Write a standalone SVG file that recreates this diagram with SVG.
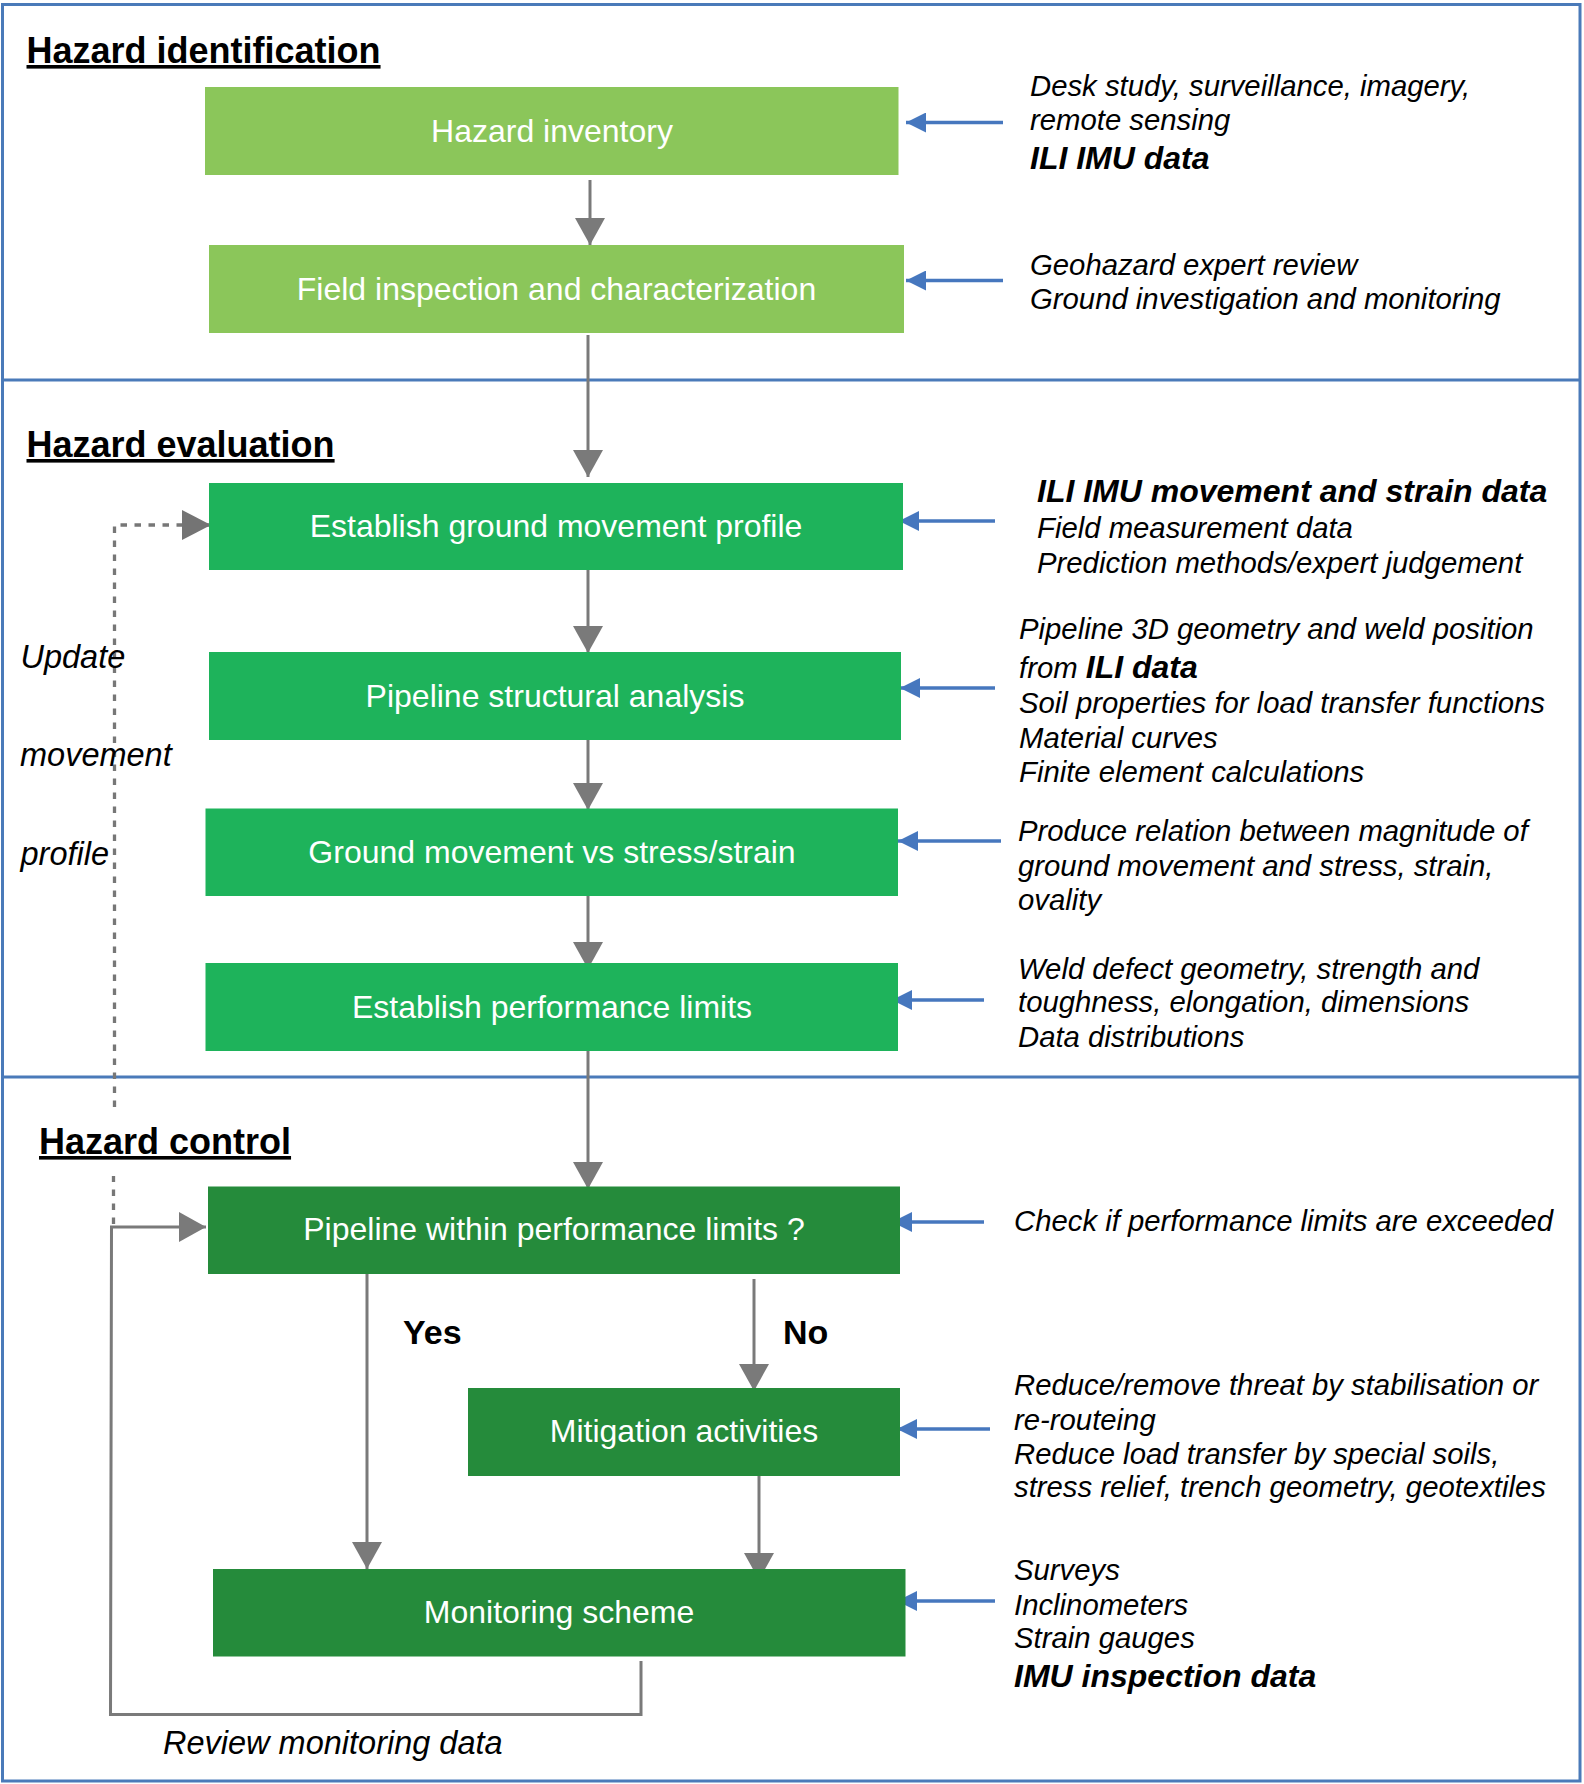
<svg xmlns="http://www.w3.org/2000/svg" width="1584" height="1784" viewBox="0 0 1584 1784">
<style>
  text { font-family: "Liberation Sans", Arial, Helvetica, sans-serif; }
  .frame { fill: none; stroke: #4a7ab9; stroke-width: 3; }
  .divider { stroke: #4a7ab9; stroke-width: 3; }
  .head { font-size: 36px; font-weight: bold; fill: #000; text-decoration: underline; }
  .box1 { fill: #8bc65a; }
  .box2 { fill: #1eb35b; }
  .box3 { fill: #258b3b; }
  .label { font-size: 32px; fill: #fff; text-anchor: middle; }
  .note { font-size: 29.3px; font-style: italic; fill: #000; }
  .noteb { font-size: 32px; font-style: italic; font-weight: bold; fill: #000; }
  .side { font-size: 32.5px; font-style: italic; fill: #000; }
  .yn { font-size: 34px; font-weight: bold; fill: #000; }
  .flow { fill: none; stroke: #7a7a7a; stroke-width: 3; }
  .dash { fill: none; stroke: #777; stroke-width: 3.3; stroke-dasharray: 6.5 7.5; }
  .feed { fill: none; stroke: #4677be; stroke-width: 3.5; }
</style>
<defs>
  <marker id="grayArrow" markerUnits="userSpaceOnUse" viewBox="0 0 27 30" refX="27" refY="15" markerWidth="27" markerHeight="30" orient="auto">
    <path d="M0,0 L27,15 L0,30 Z" fill="#7a7a7a"/>
  </marker>
  <marker id="dashArrow" markerUnits="userSpaceOnUse" viewBox="0 0 29 30" refX="29" refY="15" markerWidth="29" markerHeight="30" orient="auto">
    <path d="M0,0 L29,15 L0,30 Z" fill="#747474"/>
  </marker>
  <marker id="blueArrow" markerUnits="userSpaceOnUse" viewBox="0 0 20 20" refX="20" refY="10" markerWidth="20" markerHeight="20" orient="auto">
    <path d="M0,0 L20,10 L0,20 Z" fill="#4677be"/>
  </marker>
</defs>

<rect width="1584" height="1784" fill="#fff"/>

<g id="frame">
  <rect class="frame" x="2.5" y="4.5" width="1577.5" height="1776.5"/>
  <line class="divider" x1="2.5" y1="380" x2="1580" y2="380"/>
  <line class="divider" x1="2.5" y1="1077" x2="1580" y2="1077"/>
</g>

<g id="headings">
  <text class="head" x="26.5" y="63">Hazard identification</text>
  <text class="head" x="26.5" y="457">Hazard evaluation</text>
  <text class="head" x="39" y="1154">Hazard control</text>
</g>

<g id="connectors">
  <line class="flow" x1="590" y1="180" x2="590" y2="245" marker-end="url(#grayArrow)"/>
  <line class="flow" x1="588" y1="335" x2="588" y2="477" marker-end="url(#grayArrow)"/>
  <line class="flow" x1="588" y1="570" x2="588" y2="653" marker-end="url(#grayArrow)"/>
  <line class="flow" x1="588" y1="740" x2="588" y2="810" marker-end="url(#grayArrow)"/>
  <line class="flow" x1="588" y1="896" x2="588" y2="969" marker-end="url(#grayArrow)"/>
  <line class="flow" x1="588" y1="1051" x2="588" y2="1189" marker-end="url(#grayArrow)"/>
  <line class="flow" x1="367" y1="1274" x2="367" y2="1569" marker-end="url(#grayArrow)"/>
  <line class="flow" x1="754" y1="1279" x2="754" y2="1391" marker-end="url(#grayArrow)"/>
  <line class="flow" x1="759" y1="1476" x2="759" y2="1580" marker-end="url(#grayArrow)"/>
  <polyline class="flow" points="641,1661 641,1714.5 110.5,1714.5 111.5,1227 206,1227" marker-end="url(#grayArrow)"/>
  <line class="dash" x1="113.5" y1="1224" x2="113.5" y2="1176"/>
  <polyline class="dash" points="114.5,1107 114.5,525 211,525" marker-end="url(#dashArrow)"/>
  <line class="feed" x1="1003" y1="122.5" x2="906" y2="122.5" marker-end="url(#blueArrow)"/>
  <line class="feed" x1="1003" y1="280.5" x2="906" y2="280.5" marker-end="url(#blueArrow)"/>
  <line class="feed" x1="995" y1="521" x2="899" y2="521" marker-end="url(#blueArrow)"/>
  <line class="feed" x1="995" y1="688" x2="900" y2="688" marker-end="url(#blueArrow)"/>
  <line class="feed" x1="1001" y1="841" x2="898" y2="841" marker-end="url(#blueArrow)"/>
  <line class="feed" x1="984" y1="1000" x2="892" y2="1000" marker-end="url(#blueArrow)"/>
  <line class="feed" x1="984" y1="1222" x2="892" y2="1222" marker-end="url(#blueArrow)"/>
  <line class="feed" x1="990" y1="1429" x2="897" y2="1429" marker-end="url(#blueArrow)"/>
  <line class="feed" x1="995" y1="1601" x2="897" y2="1601" marker-end="url(#blueArrow)"/>
</g>

<g id="hazard-inventory">
  <rect class="box1" x="205" y="87" width="693.5" height="88"/>
  <text class="label" x="552" y="142">Hazard inventory</text>
</g>
<g id="field-inspection">
  <rect class="box1" x="209" y="245" width="695" height="88"/>
  <text class="label" x="556.5" y="299.5">Field inspection and characterization</text>
</g>
<g id="ground-movement-profile">
  <rect class="box2" x="209" y="483" width="694" height="87"/>
  <text class="label" x="556" y="537">Establish ground movement profile</text>
</g>
<g id="structural-analysis">
  <rect class="box2" x="209" y="652" width="692" height="88"/>
  <text class="label" x="555" y="707">Pipeline structural analysis</text>
</g>
<g id="movement-vs-stress">
  <rect class="box2" x="205.5" y="808.5" width="692.5" height="87.5"/>
  <text class="label" x="552" y="863">Ground movement vs stress/strain</text>
</g>
<g id="performance-limits">
  <rect class="box2" x="205.5" y="963" width="692.5" height="88"/>
  <text class="label" x="552" y="1018">Establish performance limits</text>
</g>
<g id="within-limits">
  <rect class="box3" x="208" y="1186.5" width="692" height="87.5"/>
  <text class="label" x="554" y="1240">Pipeline within performance limits ?</text>
</g>
<g id="mitigation">
  <rect class="box3" x="468" y="1388" width="432" height="88"/>
  <text class="label" x="684" y="1442">Mitigation activities</text>
</g>
<g id="monitoring">
  <rect class="box3" x="213" y="1569" width="692.5" height="87.5"/>
  <text class="label" x="559" y="1623">Monitoring scheme</text>
</g>

<g id="decision-labels">
  <text class="yn" x="403" y="1344">Yes</text>
  <text class="yn" x="783" y="1344">No</text>
</g>

<g id="loop-labels">
  <text class="side" x="20.5" y="668">Update</text>
  <text class="side" x="20" y="766">movement</text>
  <text class="side" x="20.5" y="865">profile</text>
  <text class="side" x="163" y="1754">Review monitoring data</text>
</g>

<g id="inputs">
  <text class="note" x="1030" y="96">Desk study, surveillance, imagery,</text>
  <text class="note" x="1030" y="130">remote sensing</text>
  <text class="noteb" x="1030" y="169">ILI IMU data</text>

  <text class="note" x="1030" y="275">Geohazard expert review</text>
  <text class="note" x="1030" y="309">Ground investigation and monitoring</text>

  <text class="noteb" x="1037" y="502">ILI IMU movement and strain data</text>
  <text class="note" x="1037" y="538">Field measurement data</text>
  <text class="note" x="1037" y="573">Prediction methods/expert judgement</text>

  <text class="note" x="1019" y="639">Pipeline 3D geometry and weld position</text>
  <text class="note" x="1019" y="677.5">from <tspan class="noteb">ILI data</tspan></text>
  <text class="note" x="1019" y="713">Soil properties for load transfer functions</text>
  <text class="note" x="1019" y="748">Material curves</text>
  <text class="note" x="1019" y="782">Finite element calculations</text>

  <text class="note" x="1018" y="841">Produce relation between magnitude of</text>
  <text class="note" x="1018" y="876">ground movement and stress, strain,</text>
  <text class="note" x="1018" y="910">ovality</text>

  <text class="note" x="1018" y="979">Weld defect geometry, strength and</text>
  <text class="note" x="1018" y="1012">toughness, elongation, dimensions</text>
  <text class="note" x="1018" y="1047">Data distributions</text>

  <text class="note" x="1014" y="1230.5">Check if performance limits are exceeded</text>

  <text class="note" x="1014" y="1395">Reduce/remove threat by stabilisation or</text>
  <text class="note" x="1014" y="1429.5">re-routeing</text>
  <text class="note" x="1014" y="1463.5">Reduce load transfer by special soils,</text>
  <text class="note" x="1014" y="1497">stress relief, trench geometry, geotextiles</text>

  <text class="note" x="1014" y="1580">Surveys</text>
  <text class="note" x="1014" y="1615">Inclinometers</text>
  <text class="note" x="1014" y="1648">Strain gauges</text>
  <text class="noteb" x="1014" y="1687">IMU inspection data</text>
</g>
</svg>
